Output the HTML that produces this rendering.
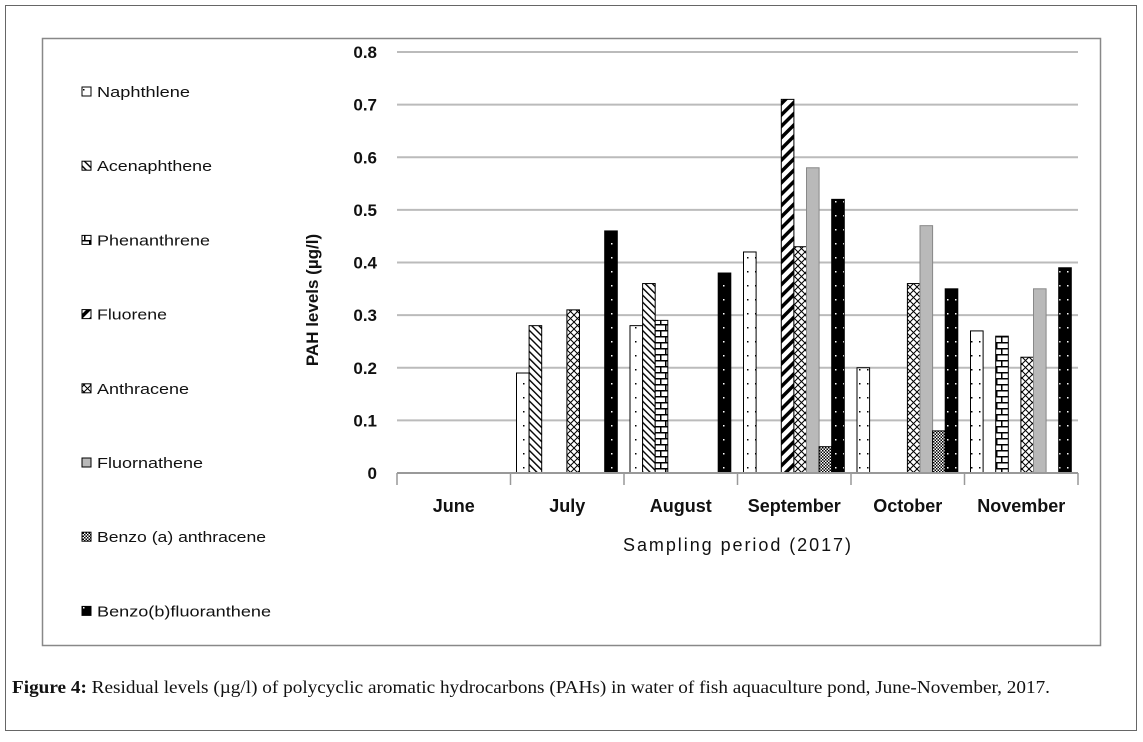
<!DOCTYPE html>
<html><head><meta charset="utf-8"><style>
body{margin:0;background:#fff;width:1143px;height:737px;overflow:hidden;font-family:"Liberation Sans",sans-serif}
</style></head><body>
<svg width="1143" height="737" xmlns="http://www.w3.org/2000/svg">
<defs>
<pattern id="p0" width="8" height="14" patternUnits="userSpaceOnUse"><rect width="8" height="14" fill="#fff"/><rect x="3" y="5" width="1.5" height="1.5" fill="#000"/></pattern>
<pattern id="p1" width="5" height="5" patternUnits="userSpaceOnUse" patternTransform="rotate(-45)"><rect width="5" height="5" fill="#fff"/><rect width="1.4" height="5" fill="#000"/></pattern>
<pattern id="p2" width="12" height="12" patternUnits="userSpaceOnUse"><rect width="12" height="12" fill="#fff"/><rect y="0" width="12" height="1.5" fill="#000"/><rect y="6" width="12" height="1.5" fill="#000"/><rect x="5" y="0" width="1.5" height="6" fill="#000"/><rect x="0" y="6" width="1.5" height="6" fill="#000"/></pattern>
<pattern id="p3" width="8" height="8" patternUnits="userSpaceOnUse" patternTransform="rotate(45)"><rect width="8" height="8" fill="#fff"/><rect width="3.5" height="8" fill="#000"/></pattern>
<pattern id="p4" width="7" height="7" patternUnits="userSpaceOnUse"><rect width="7" height="7" fill="#fff"/><path d="M0 0L7 7M7 0L0 7" stroke="#000" stroke-width="1"/></pattern>
<pattern id="p5" width="4" height="4" patternUnits="userSpaceOnUse"><rect width="4" height="4" fill="#b9b9b9"/></pattern>
<pattern id="p6" width="3" height="3" patternUnits="userSpaceOnUse"><rect width="3" height="3" fill="#fff"/><rect width="1.5" height="1.5" fill="#000"/><rect x="1.5" y="1.5" width="1.5" height="1.5" fill="#000"/></pattern>
<pattern id="p7" width="8" height="14" patternUnits="userSpaceOnUse"><rect width="8" height="14" fill="#000"/><rect x="3" y="5" width="1.5" height="1.5" fill="#fff"/></pattern>
</defs>
<rect x="5.5" y="5.5" width="1131" height="725" fill="none" stroke="#666"/>
<rect x="42.5" y="38.5" width="1058" height="607" fill="none" stroke="#888" stroke-width="1.5"/>
<g id="grid"></g><g id="bars"></g><g id="axes"></g><g id="legend"></g>
<text x="318" y="300" transform="rotate(-90 318 300)" text-anchor="middle" font-size="17" font-weight="bold" fill="#111">PAH levels (µg/l)</text>
<text x="737" y="551" text-anchor="middle" font-size="18" fill="#111" textLength="228">Sampling  period (2017)</text>
<text x="12" y="693" font-family="Liberation Serif,serif" font-size="18" fill="#111" textLength="1038" lengthAdjust="spacingAndGlyphs"><tspan font-weight="bold">Figure 4:</tspan> Residual levels (µg/l) of polycyclic aromatic hydrocarbons (PAHs) in water of fish aquaculture pond, June-November, 2017.</text>
</svg>
<script>
const categories=["June","July","August","September","October","November"];
const seriesNames=["Naphthlene","Acenaphthene","Phenanthrene","Fluorene","Anthracene","Fluornathene","Benzo (a) anthracene","Benzo(b)fluoranthene"];
const naphthalene=[0,0.19,0.28,0.42,0.20,0.27];
const acenaphthene=[0,0.28,0.36,0,0,0];
const phenanthrene=[0,0,0.29,0,0,0.26];
const fluorene=[0,0,0,0.71,0,0];
const anthracene=[0,0.31,0,0.43,0.36,0.22];
const fluornathene=[0,0,0,0.58,0.47,0.35];
const benzoA=[0,0,0,0.05,0.08,0];
const benzoB=[0,0.46,0.38,0.52,0.35,0.39];
const yTicks=[0,0.1,0.2,0.3,0.4,0.5,0.6,0.7,0.8];
const series=[naphthalene,acenaphthene,phenanthrene,fluorene,anthracene,fluornathene,benzoA,benzoB];
const NS="http://www.w3.org/2000/svg";
const X0=397,X1=1078,Y0=473,Y1=52;
const band=(X1-X0)/categories.length;
const y=v=>Y0-(v/0.8)*(Y0-Y1);
const xc=i=>X0+i*band;
function mk(t,a,p){const e=document.createElementNS(NS,t);for(const k in a)e.setAttribute(k,a[k]);p.appendChild(e);return e;}
const grid=document.getElementById('grid'),bars=document.getElementById('bars'),axes=document.getElementById('axes'),leg=document.getElementById('legend');
yTicks.forEach(t=>{
 if(t>0){const l=mk('line',{x1:X0,x2:X1,y1:y(t),y2:y(t),stroke:'#bbb','stroke-width':2},grid);
 
 }
 const tx=mk('text',{x:X0-20,y:y(t)+6,'text-anchor':'end','font-size':17,'font-weight':'bold',fill:'#111'},axes);
 tx.textContent=t===0?'0':t.toFixed(1);
 
 
});
const bw=12.6,off=6;
series.forEach((s,si)=>s.forEach((v,ci)=>{
 if(v<=0)return;
 const r=mk('rect',{x:xc(ci)+off+si*bw,y:y(v),width:bw,height:Y0-y(v),fill:'url(#p'+si+')',stroke:si===5?'#888':'#000','stroke-width':1},bars);
 
 
}));
const ax=mk('line',{x1:X0,x2:X1,y1:Y0,y2:Y0,stroke:'#999','stroke-width':2},axes);


for(let i=0;i<=categories.length;i++){const t=mk('line',{x1:xc(i),x2:xc(i),y1:Y0,y2:Y0+12,stroke:'#999','stroke-width':1.5},axes);
 
 }
categories.forEach((c,i)=>{const t=mk('text',{x:xc(i)+band/2,y:512,'text-anchor':'middle','font-size':18,'font-weight':'bold',fill:'#111'},axes);t.textContent=c;
 
 });
const legendTextWidths=[93,115,113,70,92,106,169,174];
seriesNames.forEach((n,i)=>{const ly=92+i*74.2;
 const g=mk('g',{},leg);
 
 
 mk('rect',{x:82,y:ly-5,width:9,height:9,fill:'url(#p'+i+')',stroke:'#000','stroke-width':1},g);
 const t=mk('text',{x:97,y:ly+5,'font-size':15,fill:'#111',textLength:legendTextWidths[i],lengthAdjust:'spacingAndGlyphs'},g);t.textContent=n;});
</script>
</body></html>
